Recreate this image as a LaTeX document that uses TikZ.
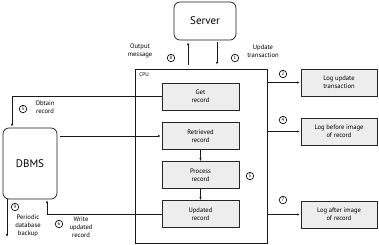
\documentclass[tikz,border=0pt]{standalone}
\usepackage{fontspec}
\setmainfont{PT Sans}
\usetikzlibrary{arrows.meta,positioning}

\begin{document}
\begin{tikzpicture}[x=0.4mm,y=-0.4mm,
  font=\fontsize{7.5}{9}\selectfont,
  line width=0.7pt,
  arr/.style={-{Latex[length=3.2pt,width=2.6pt]},black!90},
  bigbox/.style={draw=black!90,line width=0.8pt,rounded corners=2.4mm,align=center,
    font=\fontsize{12.5}{14}\selectfont},
  stepbox/.style={draw=black!85,fill=black!7,align=center,
    minimum width=30.8mm,minimum height=10.8mm,inner sep=1pt},
  logbox/.style={stepbox,minimum width=30.4mm},
  num/.style={draw,circle,inner sep=0pt,minimum size=3mm,
    font=\fontsize{5.5}{5.5}\selectfont},
  lbl/.style={align=center,inner sep=0pt}]

% Canvas: 379 x 245 px, one unit = one pixel, y grows downwards
\useasboundingbox (0,0) rectangle (379,245);

% ── Main boxes ──────────────────────────────────────────────────────────────
\node[bigbox,minimum width=24.8mm,minimum height=15.2mm] (server) at (205,21) {Server};
\node[bigbox,minimum width=21.6mm,minimum height=28.4mm] (dbms) at (30,163.5) {DBMS};
\node[draw=black!90,minimum width=52.8mm,minimum height=69.6mm] (cpu) at (201,156) {};
\node[anchor=west,inner sep=0pt,font=\fontsize{6}{7}\selectfont] (cpulbl) at (139,75) {CPU};

% ── CPU steps ───────────────────────────────────────────────────────────────
\node[stepbox] (get)  at (200.5,96.5) {Get\\record};
\node[stepbox] (retr) at (200.5,136)  {Retrieved\\record};
\node[stepbox] (proc) at (200.5,175)  {Process\\record};
\node[stepbox] (upd)  at (200.5,214)  {Updated\\record};

% ── Logs ────────────────────────────────────────────────────────────────────
\node[logbox] (logupd)    at (339,82.5)  {Log update\\transaction};
\node[logbox] (logbefore) at (339,131.5) {Log before image\\of record};
\node[logbox] (logafter)  at (339,214.5) {Log after image\\of record};

% ── Connectors ──────────────────────────────────────────────────────────────
\coordinate (outx) at (188,0);
\coordinate (inx)  at (217,0);
\coordinate (obtx) at (12,0);
\coordinate (wrx)  at (47,0);
\coordinate (bkx)  at (7,0);
\coordinate (bkend) at (7,237);

\draw[arr,shorten <=1.6mm,shorten >=0.8mm] (outx |- cpu.north) -- (outx |- server.south);
\draw[arr,shorten <=0.8mm,shorten >=1.6mm] (inx |- server.south) -- (inx |- cpu.north);

\draw[arr,shorten >=1pt] (cpu.east |- logupd)    -- (logupd.west);
\draw[arr,shorten >=1pt] (cpu.east |- logbefore) -- (logbefore.west);
\draw[arr,shorten >=1pt] (cpu.east |- logafter)  -- (logafter.west);

\draw[arr,shorten >=1pt] (get.west) -| (obtx |- dbms.north);
\draw[arr,shorten <=1.2mm,shorten >=1pt] (dbms.east |- retr) -- (retr.west);
\draw[arr,shorten >=1pt] (upd.west) -| (wrx |- dbms.south);
\draw[arr] (bkx |- dbms.south) -- (bkend);

\draw[arr] (retr.south) -- (proc.north);
\draw[arr] (proc.south) -- (upd.north);

% ── Step numbers ────────────────────────────────────────────────────────────
\node[num] (n1) at (235,58)  {1};
\node[num] (n2) at (283,74)  {2};
\node[num] (n3) at (23,109)  {3};
\node[num] (n4) at (283,120) {4};
\node[num] (n5) at (250,176) {5};
\node[num] (n6) at (59,224)  {6};
\node[num] (n7) at (283,200) {7};
\node[num] (n8) at (171,58)  {8};
\node[num] (n9) at (15,207)  {9};

% ── Labels ──────────────────────────────────────────────────────────────────
\node[lbl] (outmsg) at (140,51)  {Output\\message};
\node[lbl] (updtr)  at (263,51)  {Update\\transaction};
\node[lbl] (obtain) at (45,107)  {Obtain\\record};
\node[lbl] (write)  at (81,227)  {Write\\updated\\record};
\node[lbl] (backup) at (28,226)  {Periodic\\database\\backup};

\end{tikzpicture}
\end{document}
